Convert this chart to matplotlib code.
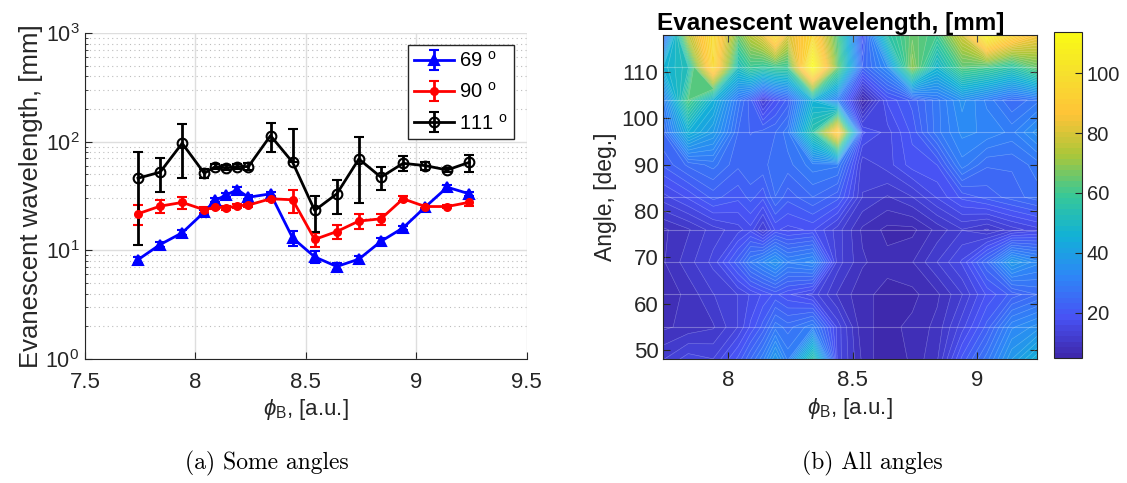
import numpy as np
import matplotlib
matplotlib.use("Agg")
import matplotlib.pyplot as plt
from matplotlib.colors import LinearSegmentedColormap

plt.rcParams['font.family'] = ['Liberation Sans', 'DejaVu Sans']
plt.rcParams['mathtext.fontset'] = 'custom'
plt.rcParams['mathtext.rm'] = 'Liberation Sans'
plt.rcParams['mathtext.it'] = 'Liberation Sans:italic'
plt.rcParams['mathtext.default'] = 'regular'

# magnetic parameter values (same for every angle)
phi = [7.74, 7.84, 7.94, 8.04, 8.09, 8.14, 8.19, 8.24, 8.34,
       8.44, 8.54, 8.64, 8.74, 8.84, 8.94, 9.04, 9.14, 9.24]

# evanescent wavelength [mm] and errors for three angles
wl_69 = [8.2, 11.3, 14.5, 22.5, 28.8, 32.4, 36.1, 30.8, 33.1,
         13.0, 8.7, 7.1, 8.3, 12.1, 16.1, 25.0, 38.1, 33.1]
err_69 = [0.5, 0.6, 0.8, 1.0, 1.2, 1.5, 1.8, 1.2, 1.5,
          2.0, 1.1, 0.5, 0.6, 0.8, 0.8, 1.2, 2.0, 1.5]
wl_90 = [21.7, 25.5, 27.6, 23.6, 25.0, 24.6, 25.7, 26.1, 29.8,
         29.2, 12.6, 14.9, 18.6, 19.5, 29.8, 25.3, 25.3, 27.7]
err_90 = [4.5, 3.5, 3.5, 1.5, 1.0, 1.0, 1.0, 1.0, 1.5,
          7.0, 1.8, 2.2, 2.9, 2.3, 1.5, 0.8, 0.6, 2.0]
wl_111 = [46.1, 52.4, 96.6, 51.2, 59.0, 57.4, 59.0, 59.0, 113.7,
          64.6, 23.3, 33.1, 69.3, 47.1, 63.2, 60.2, 54.9, 64.6]
err_111 = [35, 18, 50, 5, 3, 3, 3, 4, 34,
           66, 8.5, 11.5, 42, 11.5, 10, 5, 2.5, 11.5]

# all angles (rows of the map)
angles = [48, 55, 62, 69, 76, 83, 90, 97, 104, 111, 118]
wl_48 = [12, 15, 14, 20, 25, 30, 38, 30, 55, 15, 8, 4.7, 7, 10, 20, 28, 38, 45]
wl_55 = [8, 9, 10, 14, 18, 22, 28, 26, 30, 15, 7, 6, 7, 9, 15, 22, 32, 35]
wl_62 = [7, 9, 12, 14, 16, 18, 20, 18, 15, 10, 7, 6, 6, 8, 12, 18, 22, 25]
wl_76 = [8, 10, 13, 15, 17, 12, 18, 17, 18, 13, 8, 6, 6, 9, 12, 10, 13, 15]
wl_83 = [15, 18, 22, 20, 22, 20, 25, 22, 25, 22, 12, 10, 12, 16, 20, 22, 24, 26]
wl_97 = [25, 45, 38, 25, 23, 24, 25, 28, 55, 92, 18, 15, 20, 28, 33, 32, 30, 35]
wl_104 = [30, 62, 45, 28, 22, 12, 18, 22, 45, 30, 5, 18, 22, 28, 35, 30, 25, 28]
wl_118 = [22, 75, 98, 65, 75, 82, 100, 80, 95, 62, 18, 55, 65, 60, 78, 110, 95, 85]

wl_map = np.array([wl_48, wl_55, wl_62, wl_69, wl_76, wl_83,
                   wl_90, wl_97, wl_104, wl_111, wl_118])

# parula-like colormap
parula = LinearSegmentedColormap.from_list('parula', [
    (0.000, (0.2422, 0.1504, 0.6603)),
    (0.125, (0.2810, 0.3228, 0.9579)),
    (0.250, (0.1786, 0.5289, 0.9682)),
    (0.375, (0.0689, 0.6948, 0.8394)),
    (0.500, (0.2161, 0.7843, 0.5923)),
    (0.625, (0.6720, 0.7793, 0.2227)),
    (0.750, (0.9970, 0.7659, 0.2199)),
    (0.875, (0.9657, 0.8779, 0.1768)),
    (1.000, (0.9769, 0.9839, 0.0805))])

dark = (0.15, 0.15, 0.15)
phi_label = r'$\mathit{\phi}_{B}$, [a.u.]'

fig = plt.figure(figsize=(11.27, 4.83), dpi=100)

# ---- (a) some angles
ax1 = fig.add_axes([0.0754, 0.2567, 0.392, 0.675])
series = [(wl_69, err_69, 'b', '^', 7, '69 $^{o}$', 'b'),
          (wl_90, err_90, 'r', 'o', 5, '90 $^{o}$', 'r'),
          (wl_111, err_111, 'k', 'o', 7, '111 $^{o}$', 'none')]
for y, e, c, m, ms, lab, fc in series:
    y = np.array(y)
    e = np.array(e, dtype=float)
    lo = np.where(e < y, e, 0.0)  # no lower bar when it would go below zero
    ax1.errorbar(phi, y, yerr=[lo, e], color=c, marker=m, ms=ms,
                 mfc=fc, mec=c, mew=1.5, lw=2, elinewidth=2,
                 capsize=3.5, capthick=2, label=lab)
ax1.set_yscale('log')
ax1.set_xlim(7.5, 9.5)
ax1.set_ylim(1, 1000)
ax1.set_xticks([7.5, 8, 8.5, 9, 9.5])
ax1.set_xticklabels(['7.5', '8', '8.5', '9', '9.5'])
ax1.grid(True, which='major', color='#dedede', lw=1)
ax1.grid(True, which='minor', axis='y', color='#bdbdbd', ls=(0, (1, 3)), lw=0.8)
ax1.set_axisbelow(True)
for s in ['top', 'right']:
    ax1.spines[s].set_visible(False)
for s in ['left', 'bottom']:
    ax1.spines[s].set_color(dark)
ax1.tick_params(which='both', direction='in', colors=dark)
ax1.tick_params(axis='y', labelsize=15.5, pad=4)
ax1.tick_params(axis='x', labelsize=16, pad=9)
ax1.tick_params(which='major', length=5)
ax1.tick_params(which='minor', length=2.5)
ax1.tick_params(axis='x', which='minor', bottom=False)
ax1.set_xlabel(phi_label, fontsize=16, color=dark, labelpad=3)
ax1.set_ylabel('Evanescent wavelength, [mm]', fontsize=18.5, color=dark,
               labelpad=2)
leg = ax1.legend(loc='upper right', bbox_to_anchor=(0.9706, 0.963),
                 borderaxespad=0, fontsize=14.5, fancybox=False,
                 handlelength=2.0, handletextpad=0.25, borderpad=0.3,
                 labelspacing=0.55, framealpha=1)
leg.get_frame().set_edgecolor(dark)
leg.get_frame().set_linewidth(1)

# ---- (b) all angles
ax2 = fig.add_axes([0.5886, 0.256, 0.3313, 0.6714])
levels = np.linspace(wl_map.min(), wl_map.max(), 60)
cf = ax2.contourf(phi, angles, wl_map, levels=levels, cmap=parula)
ax2.contour(phi, angles, wl_map, levels=levels, colors='white',
            linewidths=0.4, alpha=0.3)
ax2.set_xlim(min(phi), max(phi))
ax2.set_ylim(min(angles), max(angles))
ax2.set_xticks([8, 8.5, 9])
ax2.set_xticklabels(['8', '8.5', '9'])
ax2.set_yticks([50, 60, 70, 80, 90, 100, 110])
ax2.set_yticks(angles, minor=True)
ax2.grid(True, which='minor', axis='y', color='white', lw=0.8, alpha=0.3)
ax2.tick_params(which='major', direction='in', top=True, right=True,
                length=5, colors=dark, labelsize=16)
ax2.tick_params(axis='x', pad=8)
ax2.tick_params(which='minor', left=False, right=False)
for s in ax2.spines.values():
    s.set_color(dark)
ax2.set_xlabel(phi_label, fontsize=16, color=dark, labelpad=3)
ax2.set_ylabel('Angle, [deg.]', fontsize=16.5, color=dark, labelpad=3)
ax2.set_title('Evanescent wavelength, [mm]', fontsize=17.5,
              fontweight='bold', pad=4, x=0.447)

cax = fig.add_axes([0.9352, 0.2582, 0.0246, 0.675])
cb = fig.colorbar(cf, cax=cax, ticks=[20, 40, 60, 80, 100])
cb.ax.tick_params(direction='in', length=5, colors=dark, labelsize=14.5)
cb.outline.set_edgecolor(dark)

fig.text(0.237, 0.041, '(a) Some angles', family='cmr10', fontsize=17,
         ha='center', va='center')
fig.text(0.774, 0.041, '(b) All angles', family='cmr10', fontsize=17,
         ha='center', va='center')

fig.savefig('out.png', dpi=100)
